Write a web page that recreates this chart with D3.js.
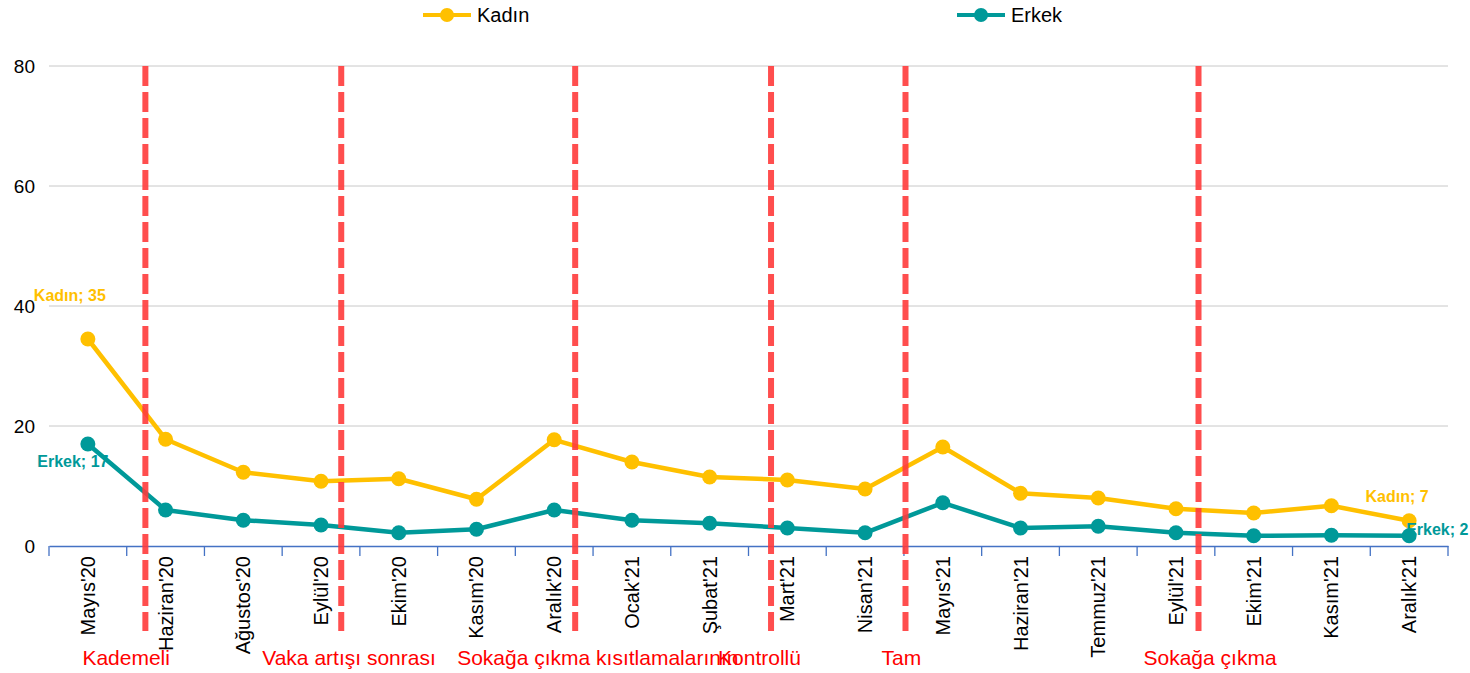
<!DOCTYPE html>
<html>
<head>
<meta charset="utf-8">
<script src="https://cdn.jsdelivr.net/npm/d3@7"></script>
<style>
  body { margin: 0; background: #fff; }
  svg { display: block; font-family: "Liberation Sans", Arial, sans-serif; }
</style>
</head>
<body>
<div id="chart"></div>
<script>
var months = ["Mayıs'20", "Haziran'20", "Ağustos'20", "Eylül'20", "Ekim'20", "Kasım'20", "Aralık'20",
  "Ocak'21", "Şubat'21", "Mart'21", "Nisan'21", "Mayıs'21", "Haziran'21", "Temmuz'21",
  "Eylül'21", "Ekim'21", "Kasım'21", "Aralık'21"];
var kadin = [34.5, 17.8, 12.3, 10.8, 11.2, 7.8, 17.7, 14, 11.5, 11, 9.5, 16.5, 8.8, 8, 6.2, 5.5, 6.7, 4.2];
var erkek = [17, 6, 4.3, 3.5, 2.2, 2.8, 6, 4.3, 3.8, 3, 2.2, 7.2, 3, 3.3, 2.2, 1.7, 1.8, 1.7];
var yTicks = [0, 20, 40, 60, 80];
// data label texts as printed on the chart (first and last point)
var kadinLabels = ["Kadın; 35", "Kadın; 7"];
var erkekLabels = ["Erkek; 17", "Erkek; 2"];
// event lines, in category units from the left edge of the axis
var eventPos = [1.24, 3.76, 6.77, 9.29, 11.02, 14.79];
var eventText = ["Kademeli", "Vaka artışı sonrası", "Sokağa çıkma kısıtlamalarının", "Kontrollü", "Tam", "Sokağa çıkma"];

var width = 1470, height = 673;
var mLeft = 49, mRight = 1448, mTop = 66, mBottom = 546;
var kColor = "#FFC000", eColor = "#009999";
var eventShift = [-63, -79, -118, -53, -24, -55];

var svg = d3.select("#chart").append("svg").attr("width", width).attr("height", height);

var x = d3.scaleBand().domain(months).range([mLeft, mRight]);
var xe = d3.scaleLinear().domain([0, months.length]).range([mLeft, mRight]);
var y = d3.scaleLinear().domain([0, 80]).range([mBottom, mTop]);

// grid
svg.append("g").selectAll("line").data(yTicks.slice(1)).join("line")
  .attr("x1", mLeft).attr("x2", mRight)
  .attr("y1", d => y(d)).attr("y2", d => y(d))
  .attr("stroke", "#c8c8c8").attr("stroke-width", 1);

// y labels
svg.append("g").selectAll("text").data(yTicks).join("text")
  .attr("x", 35).attr("y", d => y(d) + 7)
  .attr("text-anchor", "end")
  .style("font-size", "19px").attr("fill", "#000")
  .text(d => d);

// x axis
var xAxis = svg.append("g").attr("transform", "translate(0," + mBottom + ")")
  .call(d3.axisBottom(x).tickSize(0).tickFormat(""));
xAxis.select(".domain").attr("stroke", "#4472C4").attr("stroke-width", 1.3);
svg.append("g").selectAll("line").data(d3.range(months.length + 1)).join("line")
  .attr("x1", d => xe(d)).attr("x2", d => xe(d))
  .attr("y1", mBottom).attr("y2", mBottom + 10)
  .attr("stroke", "#4472C4").attr("stroke-width", 1.3);

svg.append("g").selectAll("text").data(months).join("text")
  .attr("transform", d => "translate(" + (x(d) + x.bandwidth() / 2 + 7) + "," + (mBottom + 10) + ") rotate(-90)")
  .attr("text-anchor", "end")
  .style("font-size", "20px").attr("fill", "#000")
  .text(d => d);

// lines
function xc(i) { return x(months[i]) + x.bandwidth() / 2; }
var line = d3.line().x((d, i) => xc(i)).y(d => y(d));
function drawSeries(vals, color) {
  svg.append("path").datum(vals)
    .attr("d", line).attr("fill", "none")
    .attr("stroke", color).attr("stroke-width", 4.5).attr("stroke-linejoin", "round");
  svg.append("g").selectAll("circle").data(vals).join("circle")
    .attr("cx", (d, i) => xc(i))
    .attr("cy", d => y(d)).attr("r", 7.5).attr("fill", color);
}
drawSeries(kadin, kColor);
drawSeries(erkek, eColor);

// event lines
svg.append("g").selectAll("line").data(eventPos).join("line")
  .attr("x1", d => xe(d)).attr("x2", d => xe(d))
  .attr("y1", mTop).attr("y2", 631)
  .attr("stroke", "#FF3B3B").attr("stroke-opacity", 0.9)
  .attr("stroke-width", 6).attr("stroke-dasharray", "20,6");

svg.append("g").selectAll("text").data(eventText).join("text")
  .attr("x", (d, i) => xe(eventPos[i]) + eventShift[i])
  .attr("y", 665)
  .attr("text-anchor", "start")
  .style("font-size", "21px").attr("fill", "#FF0000")
  .text(d => d);

// data labels
var n = months.length - 1;
function dataLabel(xp, yp, anchor, color, txt) {
  svg.append("text").attr("x", xp).attr("y", yp)
    .attr("text-anchor", anchor).style("font-size", "16px").style("font-weight", "bold")
    .attr("fill", color).text(txt);
}
dataLabel(xc(0) - 18, y(kadin[0]) - 38, "middle", kColor, kadinLabels[0]);
dataLabel(xc(0) - 15, y(erkek[0]) + 23, "middle", eColor, erkekLabels[0]);
dataLabel(xc(n) - 12, y(kadin[n]) - 19, "middle", kColor, kadinLabels[1]);
dataLabel(xc(n) - 3, y(erkek[n]) - 1, "start", eColor, erkekLabels[1]);

// legend
var legend = [{name: "Kadın", color: kColor, x: 423}, {name: "Erkek", color: eColor, x: 957}];
var lg = svg.append("g").selectAll("g").data(legend).join("g")
  .attr("transform", d => "translate(" + d.x + ",15)");
lg.append("line").attr("x1", 0).attr("x2", 48).attr("stroke", d => d.color).attr("stroke-width", 4);
lg.append("circle").attr("cx", 24).attr("r", 7).attr("fill", d => d.color);
lg.append("text").attr("x", 54).attr("y", 7).style("font-size", "20px").attr("fill", "#000").text(d => d.name);
</script>
</body>
</html>
